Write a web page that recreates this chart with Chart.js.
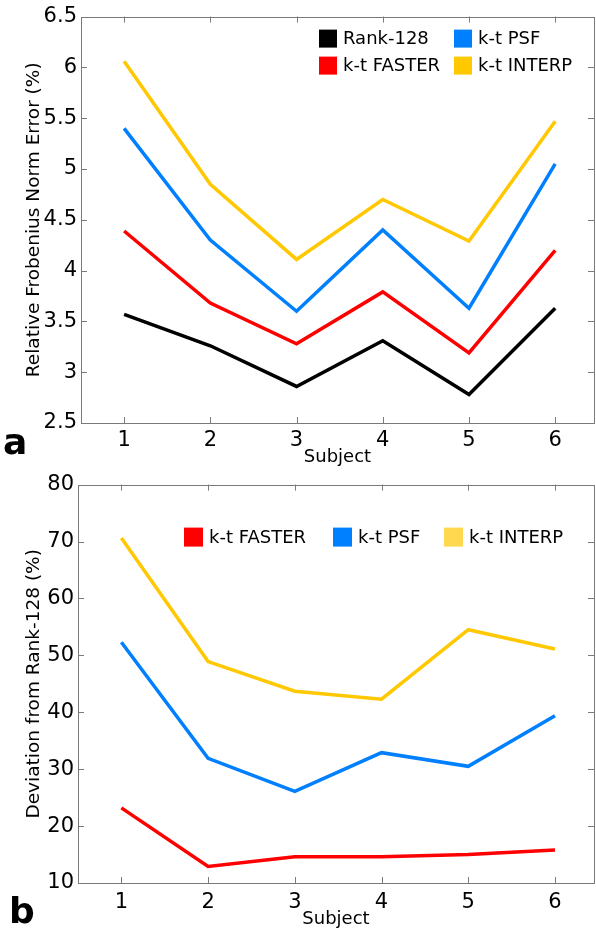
<!DOCTYPE html>
<html>
<head>
<meta charset="utf-8">
<script src="https://cdn.jsdelivr.net/npm/chart.js@4"></script>
<style>
  html, body { margin: 0; padding: 0; background: #fff; }
  #page { position: relative; width: 596px; height: 930px; overflow: hidden; }
  .box { position: absolute; left: 0; width: 596px; }
  .panel { position: absolute; font-family: "DejaVu Sans", sans-serif; font-weight: bold; font-size: 36px; line-height: 1; }
</style>
</head>
<body>
<div id="page">
  <div class="box" style="top:0;height:468px"><canvas id="errChart" width="596" height="468"></canvas></div>
  <div class="box" style="top:468px;height:462px"><canvas id="devChart" width="596" height="462"></canvas></div>
  <div class="panel" style="left:3px;top:424px">a</div>
  <div class="panel" style="left:9px;top:893px">b</div>
</div>
<script>
// Subjects along the x axis
const subjects = [1, 2, 3, 4, 5, 6];

// Relative Frobenius norm error (%)
const rank128Err = [3.57, 3.26, 2.86, 3.31, 2.78, 3.63];
const fasterErr  = [4.39, 3.68, 3.28, 3.79, 3.19, 4.20];
const psfErr     = [5.40, 4.30, 3.60, 4.40, 3.63, 5.05];
const interpErr  = [6.06, 4.85, 4.11, 4.70, 4.29, 5.47];

// Deviation from Rank-128 (%)
const fasterDev = [23.2, 12.9, 14.6, 14.6, 15.0, 15.8];
const psfDev    = [52.3, 31.9, 26.1, 32.9, 30.5, 39.4];
const interpDev = [70.6, 48.9, 43.7, 42.3, 54.5, 51.1];

const FONT = '"DejaVu Sans", sans-serif';
const AXIS_GREY = '#7a7a7a';
const BLACK = '#000000', RED = '#ff0000', BLUE = '#0080ff', YELLOW = '#ffc800';

const toPoints = vals => vals.map((v, i) => ({ x: subjects[i], y: v }));

function series(label, vals, color, swatch) {
  return {
    label: label,
    data: toPoints(vals),
    borderColor: color,
    backgroundColor: swatch || color,
    borderWidth: 3.5,
    pointRadius: 0,
    fill: false,
    tension: 0
  };
}

// Box around the plot plus short inward tick marks on all four sides
const frameTicks = {
  id: 'frameTicks',
  afterDraw(chart) {
    const { ctx, chartArea: a, scales } = chart;
    const len = 6;
    ctx.save();
    ctx.strokeStyle = AXIS_GREY;
    ctx.lineWidth = 1;
    ctx.beginPath();
    scales.x.ticks.forEach(t => {
      const px = Math.round(scales.x.getPixelForValue(t.value)) + 0.5;
      ctx.moveTo(px, a.bottom); ctx.lineTo(px, a.bottom - len);
      ctx.moveTo(px, a.top); ctx.lineTo(px, a.top + len);
    });
    scales.y.ticks.forEach(t => {
      const py = Math.round(scales.y.getPixelForValue(t.value)) + 0.5;
      ctx.moveTo(a.left, py); ctx.lineTo(a.left + len, py);
      ctx.moveTo(a.right, py); ctx.lineTo(a.right - len, py);
    });
    ctx.stroke();
    ctx.strokeRect(Math.round(a.left) + 0.5, Math.round(a.top) + 0.5,
                   Math.round(a.right - a.left), Math.round(a.bottom - a.top));
    ctx.restore();
  }
};

// Legend drawn inside the plot area, items placed on a small grid
const boxLegend = {
  id: 'boxLegend',
  afterDatasetsDraw(chart, args, opts) {
    const { ctx, chartArea: a } = chart;
    ctx.save();
    ctx.font = opts.fontSize + 'px ' + FONT;
    ctx.textBaseline = 'middle';
    opts.slots.forEach(slot => {
      const ds = chart.data.datasets[slot.index];
      const x = a.left + slot.dx, y = a.top + slot.dy;
      ctx.fillStyle = ds.backgroundColor;
      ctx.fillRect(x, y, opts.box, opts.box);
      ctx.fillStyle = '#000';
      ctx.fillText(ds.label, x + opts.box + 6, y + opts.box / 2 + 1);
    });
    ctx.restore();
  }
};

function axes(yMin, yMax, yStep, yTitle, yWidth, xHeight, xPad) {
  return {
    x: {
      type: 'linear',
      min: 0.5,
      max: 6.45,
      afterFit: s => { s.height = xHeight; },
      grid: { display: false, drawTicks: false },
      border: { display: false },
      ticks: {
        stepSize: 1,
        includeBounds: false,
        padding: xPad,
        color: '#000',
        font: { family: FONT, size: 21 },
        maxRotation: 0,
        callback: v => String(v)
      },
      title: {
        display: true,
        text: 'Subject',
        color: '#000',
        font: { family: FONT, size: 18 },
        padding: { top: 0, bottom: 0 }
      }
    },
    y: {
      min: yMin,
      max: yMax,
      afterFit: s => { s.width = yWidth; },
      grid: { display: false, drawTicks: false },
      border: { display: false },
      ticks: {
        stepSize: yStep,
        padding: 4,
        color: '#000',
        font: { family: FONT, size: 21 },
        callback: v => String(v)
      },
      title: {
        display: true,
        text: yTitle,
        color: '#000',
        font: { family: FONT, size: 18.5 },
        padding: { top: 23, bottom: 0 }
      }
    }
  };
}

new Chart(document.getElementById('errChart'), {
  type: 'line',
  data: {
    datasets: [
      series('Rank-128', rank128Err, BLACK),
      series('k-t FASTER', fasterErr, RED),
      series('k-t PSF', psfErr, BLUE),
      series('k-t INTERP', interpErr, YELLOW)
    ]
  },
  options: {
    responsive: false,
    animation: false,
    layout: { padding: { top: 14, right: 2, left: 0, bottom: 0 } },
    scales: axes(2.5, 6.5, 0.5, 'Relative Frobenius Norm Error (%)', 81, 45, 5),
    plugins: {
      legend: { display: false },
      tooltip: { enabled: false },
      boxLegend: {
        fontSize: 18,
        box: 18,
        slots: [
          { index: 0, dx: 238, dy: 13 },
          { index: 2, dx: 373, dy: 13 },
          { index: 1, dx: 238, dy: 40 },
          { index: 3, dx: 373, dy: 40 }
        ]
      }
    }
  },
  plugins: [frameTicks, boxLegend]
});

new Chart(document.getElementById('devChart'), {
  type: 'line',
  data: {
    datasets: [
      series('k-t FASTER', fasterDev, RED),
      series('k-t PSF', psfDev, BLUE),
      series('k-t INTERP', interpDev, YELLOW, '#ffd84f')
    ]
  },
  options: {
    responsive: false,
    animation: false,
    layout: { padding: { top: 6, right: 2, left: 0, bottom: 0 } },
    scales: axes(10, 80, 10, 'Deviation from Rank-128 (%)', 78, 47, 7),
    plugins: {
      legend: { display: false },
      tooltip: { enabled: false },
      boxLegend: {
        fontSize: 18,
        box: 19,
        slots: [
          { index: 0, dx: 106, dy: 43 },
          { index: 1, dx: 255, dy: 43 },
          { index: 2, dx: 366, dy: 43 }
        ]
      }
    }
  },
  plugins: [frameTicks, boxLegend]
});
</script>
</body>
</html>
